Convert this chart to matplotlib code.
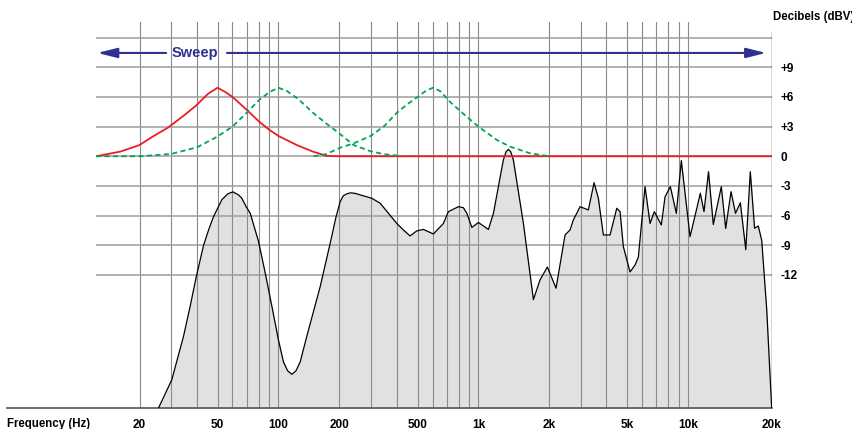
import numpy as np
import matplotlib.pyplot as plt
from matplotlib.ticker import NullLocator

plt.rcParams['font.family'] = ['Liberation Sans', 'DejaVu Sans']
plt.rcParams['font.weight'] = 'bold'

# the frequency grid of the original drawing is hand spaced, so the log axis is warped a bit
grid_hz = [1, 10, 20, 30, 40, 50, 60, 70, 80, 90, 100, 200, 300, 400, 500, 600, 700, 800, 900,
           1000, 2000, 3000, 4000, 5000, 6000, 7000, 8000, 9000, 10000, 20000, 100000]
grid_pos = [-92.7, 85.6, 139.3, 170.7, 196.7, 217.3, 232.3, 246.5, 259.0, 269.3, 278.3, 339.3,
            370.5, 396.7, 417.5, 432.7, 446.7, 459.0, 469.3, 478.3, 549.3, 580.7, 606.3, 627.0,
            642.3, 656.3, 668.3, 678.7, 688.3, 771.7, 965.3]

# measured response (Hz, dBV)
resp_hz = [25.5, 30.3, 34.5, 37.1, 39.7, 43.0, 45.4, 47.9, 52.7, 56.7, 60.3, 64.0, 66.4, 69.6,
           72.7, 79.4, 85.7, 92.6, 100, 105.8, 111, 116.5, 122, 128, 138, 160.6, 180, 192, 201.8,
           210, 220, 230, 245, 273, 304, 333, 365, 400, 429, 461, 495, 536, 604, 674, 712, 794,
           840, 874, 926, 1000, 1103, 1158, 1276, 1310, 1340, 1372, 1407, 1552, 1711, 1826, 1961,
           2180, 2449, 2612, 2726, 2974, 3267, 3484, 3656, 3868, 4163, 4475, 4637, 4804, 5182,
           5500, 5721, 6181, 6531, 6848, 7401, 7712, 8183, 8759, 9261, 10142, 10723, 11048,
           11393, 11828, 12308, 13156, 13644, 14262, 14804, 15409, 16125, 16740, 17350, 17890,
           18405, 19190, 20000]
resp_db = [-25.5, -22.6, -18.2, -15.2, -12.2, -9.0, -7.45, -6.1, -4.4, -3.8, -3.6, -3.9, -4.25,
           -5.1, -5.77, -8.6, -11.8, -15.2, -18.6, -20.8, -21.7, -22.05, -21.7, -20.8, -18.2,
           -13.2, -8.8, -6.2, -4.6, -4.0, -3.8, -3.7, -3.75, -4.0, -4.25, -4.75, -5.77, -6.8,
           -7.45, -8.06, -7.55, -7.4, -7.86, -6.8, -5.6, -5.1, -5.2, -5.77, -7.2, -6.7, -7.4,
           -5.77, -0.37, 0.45, 0.7, 0.45, -0.37, -6.8, -14.5, -12.5, -11.2, -13.35, -7.96, -7.45,
           -6.44, -5.1, -5.43, -2.67, -4.25, -7.96, -7.96, -5.26, -5.6, -9.14, -11.7, -11.0,
           -10.2, -3.07, -6.8, -5.6, -6.95, -4.1, -3.07, -5.77, -0.44, -8.13, -5.3, -3.74, -5.6,
           -1.56, -6.9, -3.07, -7.3, -3.58, -5.77, -4.7, -9.45, -1.56, -7.28, -7.05, -8.5,
           -15.5, -25.5]

# sweeping peak filter: current position (red) and two later positions (green)
red_hz = [11.4, 15.6, 20, 24, 28.9, 35, 40, 45, 50, 55, 60, 70, 80, 90, 100, 123, 148, 173, 200,
          20000]
red_db = [0, 0.47, 1.14, 2.05, 2.9, 4.2, 5.2, 6.3, 6.93, 6.5, 6.0, 4.7, 3.5, 2.66, 2.05, 1.14,
          0.47, 0.03, 0, 0]
green1_hz = [11.4, 20, 30, 40, 50, 60, 70, 80, 90, 100, 110, 125, 149, 175, 200, 240, 300, 350,
             400, 422]
green1_db = [0, 0, 0.23, 0.9, 2.0, 3.0, 4.4, 5.7, 6.5, 6.93, 6.6, 5.8, 4.35, 3.2, 2.3, 1.14, 0.5,
             0.2, 0.07, 0]
green2_hz = [149, 173, 200, 240, 300, 350, 400, 450, 500, 550, 600, 650, 725, 850, 1000, 1197,
             1363, 1657, 2000]
green2_db = [0, 0.23, 0.84, 1.3, 2.05, 3.1, 4.4, 5.3, 6.0, 6.6, 6.93, 6.6, 5.5, 4.2, 3.0, 1.65,
             0.97, 0.3, 0]

x_ticks = [20, 50, 100, 200, 500, 1000, 2000, 5000, 10000, 20000]
x_labels = ['20', '50', '100', '200', '500', '1k', '2k', '5k', '10k', '20k']
y_ticks = [9, 6, 3, 0, -3, -6, -9, -12]
y_labels = ['+9', '+6', '+3', '0', '-3', '-6', '-9', '-12']
y_grid = [12, 9, 6, 3, 0, -3, -6, -9, -12]

BLUE = '#2e3192'
RED = '#ed1c24'
GREEN = '#00a651'

log_grid = np.log10(grid_hz)


def fwd(f):
    return np.interp(np.log10(np.maximum(f, 1e-3)), log_grid, grid_pos)


def inv(u):
    return 10 ** np.interp(u, grid_pos, log_grid)


fig = plt.figure(figsize=(8.53, 4.29), dpi=100)
ax = fig.add_axes([96 / 853, 20.7 / 429, 675.7 / 853, 386.3 / 429])
ax.set_xscale('function', functions=(fwd, inv))
ax.set_xlim(11.4, 20000)
ax.set_ylim(-25.49, 13.58)
ymin = -25.49

# grey response area
ax.fill_between(resp_hz, resp_db, ymin, color='#e1e1e1', lw=0, zorder=1)

# grid
for f in grid_hz[2:-2]:
    ax.axvline(f, color='#8a8a8a', lw=0.8, zorder=2)
for v in y_grid:
    ax.axhline(v, color='#9c9c9c', lw=1.1, zorder=2)
ax.axvline(20000, ymax=0.974, color='#333333', lw=1.0, zorder=3)
ax.plot([-0.132, 1], [0, 0], transform=ax.transAxes, color='#555555', lw=1.2,
        clip_on=False, zorder=3)

ax.plot(resp_hz, resp_db, color='black', lw=0.9, zorder=4, solid_joinstyle='round')

ax.plot(red_hz, red_db, color=RED, lw=1.3, zorder=5, solid_joinstyle='round')
ax.plot(green1_hz, green1_db, color=GREEN, lw=1.3, ls=(0, (2.8, 1.9)), zorder=6)
ax.plot(green2_hz, green2_db, color=GREEN, lw=1.3, ls=(0, (2.8, 1.9)), zorder=6)

# sweep arrow
arrow = dict(arrowstyle='-|>,head_length=0.8,head_width=0.2', color=BLUE, lw=1.5,
             mutation_scale=15, shrinkA=0, shrinkB=0)
ax.annotate('', xy=(11.6, 10.45), xytext=(28.2, 10.45), arrowprops=arrow, zorder=7)
ax.annotate('', xy=(19080, 10.45), xytext=(56.1, 10.45), arrowprops=arrow, zorder=7)
ax.text(39.3, 10.45, 'Sweep', ha='center', va='center', color=BLUE, fontsize=10.5,
        fontweight='bold', zorder=7)

ax.set_xticks(x_ticks)
ax.set_xticklabels(x_labels)
ax.xaxis.set_minor_locator(NullLocator())
ax.tick_params(axis='x', length=0, pad=7.5, labelsize=8.5)
ax.yaxis.tick_right()
ax.set_yticks(y_ticks)
ax.set_yticklabels(y_labels)
ax.tick_params(axis='y', length=0, pad=6, labelsize=8.5)
for s in ax.spines.values():
    s.set_visible(False)

fig.text(773 / 853, 1 - 17 / 429, 'Decibels (dBV)', ha='left', va='center', fontsize=8.3,
         fontweight='bold')
fig.text(7 / 853, 1 - 423.5 / 429, 'Frequency (Hz)', ha='left', va='center', fontsize=8.3,
         fontweight='bold')

fig.savefig('out.png', dpi=100)
